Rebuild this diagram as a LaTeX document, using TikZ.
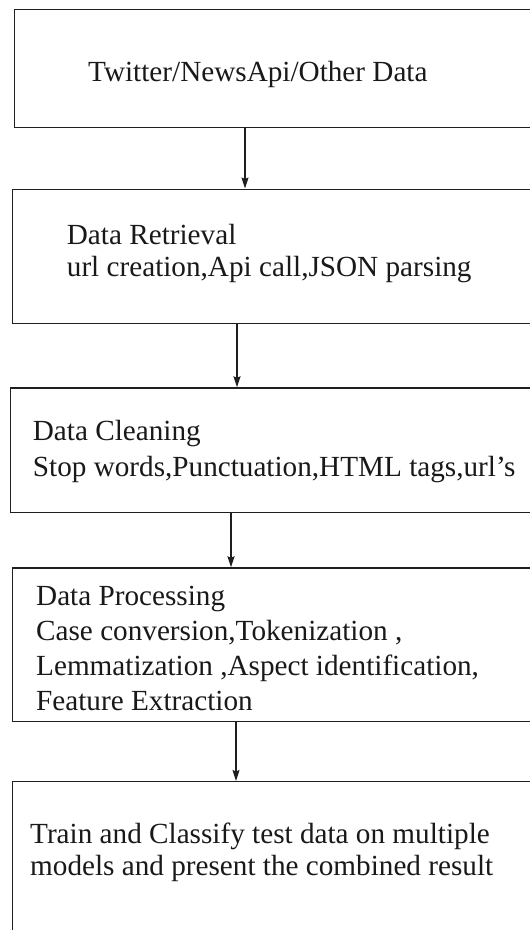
\documentclass[tikz,border=0pt]{standalone}
\usepackage{fontspec}
\setmainfont{Liberation Serif}
\usetikzlibrary{arrows.meta}
\begin{document}
\begin{tikzpicture}[x=1pt,y=1pt,
  box/.style={draw=black!88, line width=1.3pt, rectangle, inner sep=0pt, anchor=north west},
  txt/.style={anchor=base west, inner sep=0pt, font=\fontsize{29.2}{35}\selectfont, text=black!90},
  link/.style={draw=black!88, line width=1.2pt, -{Stealth[length=11pt,width=7pt,inset=1.5pt]}}]
\useasboundingbox (0,0) rectangle (530,-930);
\clip (0,0) rectangle (530,-930);
\fill[white] (0,0) rectangle (530,-930);
% boxes
\node[box, minimum width=531.5pt, minimum height=118.5pt] (b1) at (13.5,-8.5) {};
\node[box, minimum width=533pt, minimum height=134pt] (b2) at (12,-188.5) {};
\node[box, minimum width=535.5pt, minimum height=124.2pt] (b3) at (9.5,-387.3) {};
\node[box, minimum width=533pt, minimum height=153.7pt] (b4) at (12,-567.3) {};
\node[box, minimum width=533pt, minimum height=179pt] (b5) at (12,-781) {};
% texts
\node[txt] (t1) at (88,-81.7) {Twitter/NewsApi/Other Data};
\node[txt] (t2a) at (66.7,-244) {Data Retrieval};
\node[txt] (t2b) at (66.7,-276.7) {url creation,Api call,JSON parsing};
\node[txt] (t3a) at (32.7,-440) {Data Cleaning};
\node[txt] (t3b) at (32.7,-476.7) {Stop words,Punctuation,HTML tags,url’s};
\node[txt] (t4a) at (36,-605) {Data Processing};
\node[txt] (t4b) at (36,-640) {Case conversion,Tokenization ,};
\node[txt] (t4c) at (36,-675) {Lemmatization ,Aspect identification,};
\node[txt] (t4d) at (36,-710) {Feature Extraction};
\node[txt] (t5a) at (30,-843.3) {Train and Classify test data on multiple};
\node[txt] (t5b) at (30,-875) {models and present the combined result};
% connectors
\coordinate (x1) at (245,0);
\coordinate (x2) at (237,0);
\coordinate (x3) at (231,0);
\coordinate (x4) at (236,0);
\draw[link] (b1.south -| x1) -- (b2.north -| x1);
\draw[link] (b2.south -| x2) -- (b3.north -| x2);
\draw[link] (b3.south -| x3) -- (b4.north -| x3);
\draw[link] (b4.south -| x4) -- (b5.north -| x4);
\end{tikzpicture}
\end{document}
